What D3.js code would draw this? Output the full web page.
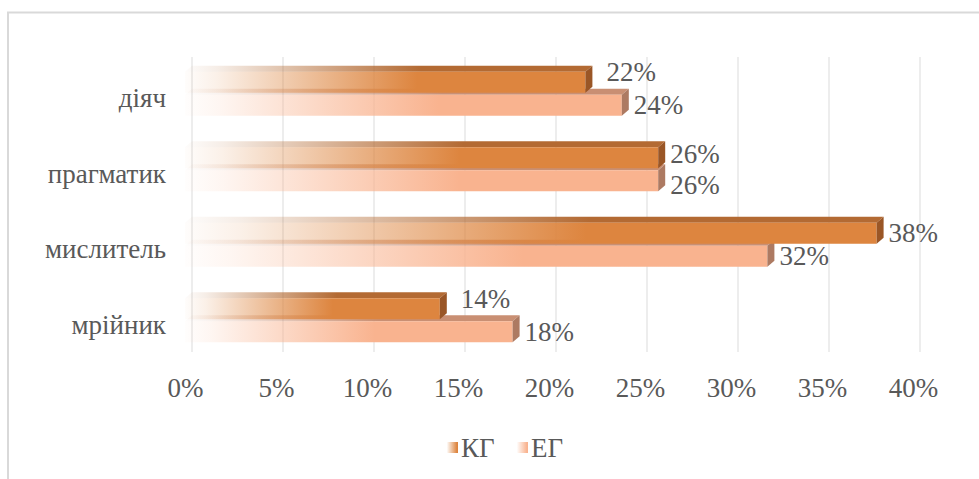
<!DOCTYPE html>
<html>
<head>
<meta charset="utf-8">
<script src="https://cdn.jsdelivr.net/npm/d3@7"></script>
<style>
html,body{margin:0;padding:0;background:#fff;}
svg{display:block;}
text{font-family:"Liberation Serif","Times New Roman",serif;fill:#595959;}
</style>
</head>
<body>
<svg id="chart" width="979" height="479"></svg>
<script>
const categories = ["діяч", "прагматик", "мислитель", "мрійник"];
const seriesNames = ["КГ", "ЕГ"];
const kgValues = [0.22, 0.26, 0.38, 0.14];
const egValues = [0.24, 0.26, 0.32, 0.18];
const xTicks = [0, 0.05, 0.10, 0.15, 0.20, 0.25, 0.30, 0.35, 0.40];

const svg = d3.select("#chart");
const DX = 7, DY = -6;
const fontSize = 27;

// frame
svg.append("rect").attr("x", 8).attr("y", 12.5).attr("width", 1000).attr("height", 500)
  .attr("fill", "#fff").attr("stroke", "#d9d9d9").attr("stroke-width", 2);

const x = d3.scaleLinear().domain([0, 0.40]).range([192, 920]);
const y = d3.scaleBand().domain(categories).range([56, 358]).padding(0);

const colors = {
  "КГ": {front: "#dd853f", top: "#b36a33", side: "#9a5626"},
  "ЕГ": {front: "#f9b38f", top: "#c98f73", side: "#ad7a62"}
};

const defs = svg.append("defs");
function grad(id, color, endStop) {
  const g = defs.append("linearGradient").attr("id", id)
    .attr("x1", "0%").attr("x2", "100%").attr("y1", "0%").attr("y2", "0%");
  g.append("stop").attr("offset", "0%").attr("stop-color", color).attr("stop-opacity", 0.02);
  g.append("stop").attr("offset", "8%").attr("stop-color", color).attr("stop-opacity", 0.12);
  g.append("stop").attr("offset", endStop).attr("stop-color", color).attr("stop-opacity", 1);
  g.append("stop").attr("offset", "100%").attr("stop-color", color).attr("stop-opacity", 1);
}
seriesNames.forEach((s, i) => {
  grad("gf" + i, colors[s].front, "58%");
  grad("gt" + i, colors[s].top, "58%");
  grad("gl" + i, colors[s].front, "90%");
});

// gridlines (back wall)
svg.append("g").selectAll("line").data(xTicks).join("line")
  .attr("x1", d => x(d)).attr("x2", d => x(d))
  .attr("y1", 57).attr("y2", 352)
  .attr("stroke", "#e4e4e4").attr("stroke-width", 1.3);

// x axis labels (front plane)
const xAxis = d3.axisBottom(x).tickValues(xTicks).tickFormat(d3.format(".0%")).tickSize(0).tickPadding(0);
const gx = svg.append("g").attr("transform", `translate(${-DX},378)`).call(xAxis);
gx.select(".domain").remove();
gx.selectAll("text").attr("font-size", fontSize).attr("fill", "#595959")
  .attr("font-family", '"Liberation Serif","Times New Roman",serif');

// y axis labels
const yAxis = d3.axisLeft(y).tickSize(0).tickPadding(0);
const gy = svg.append("g").attr("transform", "translate(166,5)").call(yAxis);
gy.select(".domain").remove();
gy.selectAll("text").attr("font-size", fontSize).attr("fill", "#595959")
  .attr("font-family", '"Liberation Serif","Times New Roman",serif');

// bars
const barH = 21;
function drawBar(g, si, v, yTop) {
  const x0 = x(0) - DX, x1 = x(v) - DX, yb = yTop + barH;
  const s = seriesNames[si];
  g.append("polygon")
    .attr("points", [[x0, yTop], [x1, yTop], [x1 + DX, yTop + DY], [x0 + DX, yTop + DY]].map(p => p.join(",")).join(" "))
    .attr("fill", `url(#gt${si})`);
  g.append("rect").attr("x", x0).attr("y", yTop).attr("width", x1 - x0).attr("height", barH)
    .attr("fill", `url(#gf${si})`);
  g.append("polygon")
    .attr("points", [[x1, yTop], [x1 + DX, yTop + DY], [x1 + DX, yb + DY], [x1, yb]].map(p => p.join(",")).join(" "))
    .attr("fill", colors[s].side);
}

const bars = svg.append("g");
categories.forEach((c, i) => {
  const cy = y(c) + y.bandwidth() / 2;
  const g = bars.append("g");
  drawBar(g, 1, egValues[i], cy + 1);
  drawBar(g, 0, kgValues[i], cy - 1 - barH);
});

// data labels
const fmt = d3.format(".0%");
const labels = svg.append("g");
categories.forEach((c, i) => {
  const cy = y(c) + y.bandwidth() / 2;
  const kv = kgValues[i], ev = egValues[i];
  const lift = kv < ev ? 10 : 0;
  const sep = Math.abs(kv - ev) < 0.03 && !lift ? 4 : 0;
  labels.append("text").attr("x", x(kv) + (lift ? 14 : 5)).attr("y", cy - 12 - lift - sep)
    .attr("dy", "0.35em").attr("font-size", fontSize).text(fmt(kv));
  labels.append("text").attr("x", x(ev) + 5).attr("y", cy + 11 + sep)
    .attr("dy", "0.35em").attr("font-size", fontSize).text(fmt(ev));
});

// legend
const legend = svg.append("g");
const legItems = [{name: "КГ", x: 447}, {name: "ЕГ", x: 517}];
legItems.forEach((d, i) => {
  legend.append("rect").attr("x", d.x).attr("y", 442).attr("width", 11).attr("height", 11)
    .attr("fill", `url(#gl${i})`);
  legend.append("text").attr("x", d.x + 14).attr("y", 448).attr("dy", "0.35em")
    .attr("font-size", fontSize).text(d.name);
});
</script>
</body>
</html>
